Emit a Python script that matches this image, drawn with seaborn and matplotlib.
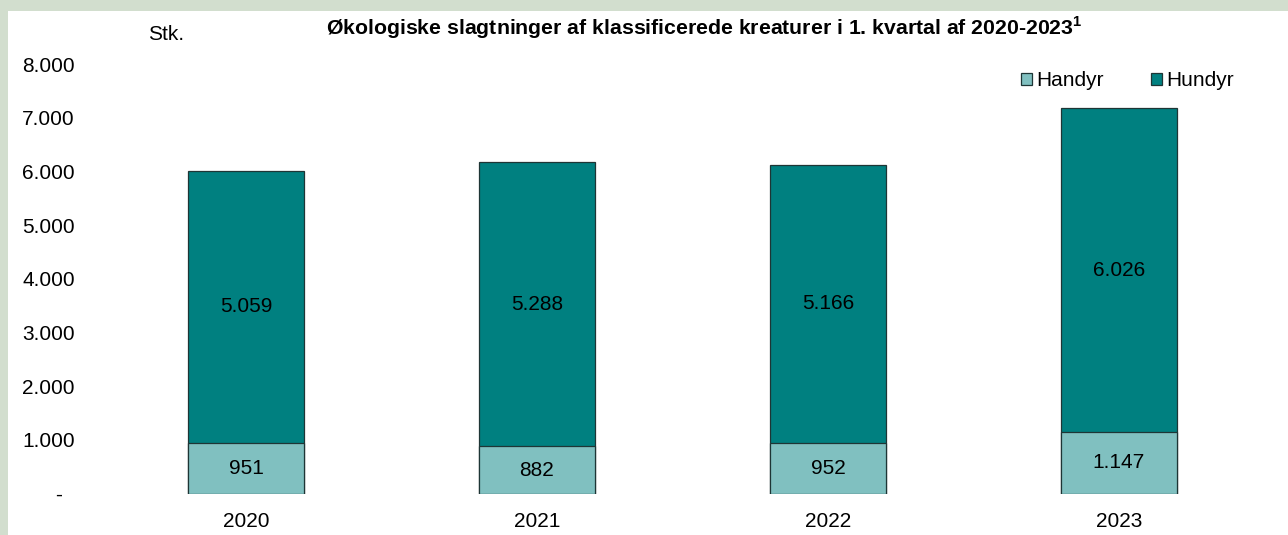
"""
Økologiske slagtninger af klassificerede kreaturer, 1. kvartal 2020-2023
Stablede søjler: Handyr nederst, Hundyr ovenpå
"""
import matplotlib
matplotlib.use("Agg")
import matplotlib.pyplot as plt
import matplotlib.patches as mpatches
from matplotlib.ticker import FuncFormatter
import seaborn as sns
import pandas as pd

# data
years = ["2020", "2021", "2022", "2023"]
handyr = [951, 882, 952, 1147]
hundyr = [5059, 5288, 5166, 6026]

title = "Økologiske slagtninger af klassificerede kreaturer i 1. kvartal af 2020-2023$^{1}$"
unit_label = "Stk."

col_handyr = "#80C0C0"
col_hundyr = "#008080"
col_edge = "#1E3535"
col_border = "#D2DECE"

sns.set_style("white")
plt.rcParams["font.family"] = ["Liberation Sans", "DejaVu Sans"]
plt.rcParams["mathtext.fontset"] = "custom"
plt.rcParams["mathtext.bf"] = "Liberation Sans:bold"
plt.rcParams["mathtext.rm"] = "Liberation Sans:bold"
plt.rcParams["text.color"] = "black"
plt.rcParams["xtick.color"] = "black"
plt.rcParams["ytick.color"] = "black"


def dk_fmt(v):
    """Dansk tusindtalsseparator"""
    return f"{int(round(v)):,}".replace(",", ".")


df = pd.DataFrame({"år": years, "Handyr": handyr, "Hundyr": hundyr})
df["total"] = df["Handyr"] + df["Hundyr"]

fig = plt.figure(figsize=(12.88, 5.35), dpi=100, facecolor=col_border)
# hvid baggrund med grøn kant øverst og til venstre
fig.patches.append(mpatches.Rectangle((8 / 1288, 0), 1, 1 - 10.5 / 535,
                                      transform=fig.transFigure,
                                      facecolor="white", edgecolor="none",
                                      zorder=-10))

ax = fig.add_axes([100.5 / 1288, (535 - 493.7) / 535,
                   1164 / 1288, (493.7 - 64) / 535])
ax.set_facecolor("none")

# Hundyr som total-søjle, Handyr lagt ovenpå
sns.barplot(data=df, x="år", y="total", color=col_hundyr, width=0.4,
            edgecolor=col_edge, linewidth=0.9, saturation=1, ax=ax)
sns.barplot(data=df, x="år", y="Handyr", color=col_handyr, width=0.4,
            edgecolor=col_edge, linewidth=0.9, saturation=1, ax=ax)

for i, (h, u) in enumerate(zip(handyr, hundyr)):
    ax.text(i, h / 2, dk_fmt(h), ha="center", va="center", fontsize=15)
    ax.text(i, h + u / 2, dk_fmt(u), ha="center", va="center", fontsize=15)

ax.set_ylim(0, 8000)
ax.set_xlim(-0.5, 3.5)
ax.set_yticks(range(0, 8001, 1000))
ax.yaxis.set_major_formatter(FuncFormatter(lambda v, p: "-  " if v == 0 else dk_fmt(v)))
ax.tick_params(axis="y", length=0, pad=18.5, labelsize=15)
ax.tick_params(axis="x", length=0, pad=13, labelsize=15)
ax.set_xlabel("")
ax.set_ylabel("")
sns.despine(ax=ax, left=True, bottom=True)

fig.text(704 / 1288, 1 - 28 / 535, title, ha="center", va="center",
         fontsize=15.3, fontweight="bold")
fig.text(148 / 1288, 1 - 34 / 535, unit_label, ha="left", va="center",
         fontsize=15)

handles = [mpatches.Patch(facecolor=col_handyr, edgecolor=col_edge, linewidth=0.9, label="Handyr"),
           mpatches.Patch(facecolor=col_hundyr, edgecolor=col_edge, linewidth=0.9, label="Hundyr")]
fig.legend(handles=handles, loc="center left",
           bbox_to_anchor=(1021 / 1288, 1 - 81 / 535), ncol=2, frameon=False,
           fontsize=15, handlelength=0.55, handleheight=0.55,
           handletextpad=0.2, columnspacing=2.25, borderpad=0, borderaxespad=0)

fig.savefig("out.png", dpi=100, facecolor=col_border)
plt.close(fig)
